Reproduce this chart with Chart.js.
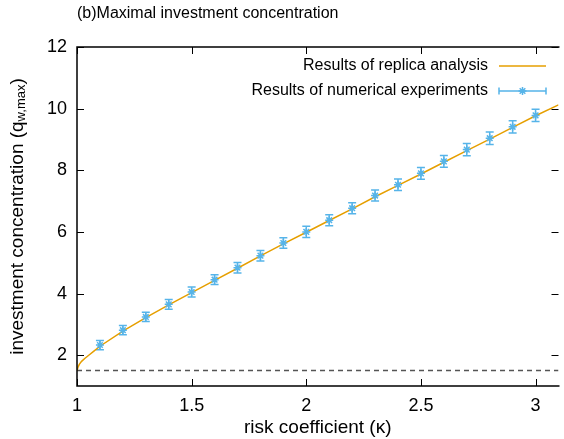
<!DOCTYPE html>
<html>
<head>
<meta charset="utf-8">
<script src="https://cdn.jsdelivr.net/npm/chart.js@4"></script>
<style>
html,body{margin:0;padding:0;background:#fff;}
#wrap{width:564px;height:439px;}
</style>
</head>
<body>
<div id="wrap"><canvas id="c" width="564" height="439"></canvas></div>
<script>
// ---- data ----
const kappaNumerical = [1.1,1.2,1.3,1.4,1.5,1.6,1.7,1.8,1.9,2.0,2.1,2.2,2.3,2.4,2.5,2.6,2.7,2.8,2.9,3.0];
const qNumerical     = [2.33,2.81,3.24,3.65,4.05,4.45,4.84,5.23,5.64,6.00,6.38,6.77,7.18,7.53,7.90,8.29,8.67,9.04,9.41,9.78];
const qError         = [0.15,0.15,0.15,0.16,0.16,0.16,0.17,0.17,0.17,0.18,0.18,0.18,0.18,0.19,0.19,0.19,0.20,0.20,0.20,0.20];

const kappaReplica = [1.0,1.005,1.01,1.02,1.035,1.05,1.075,1.1,1.2,1.3,1.4,1.5,1.6,1.7,1.8,1.9,2.0,2.1,2.2,2.3,2.4,2.5,2.6,2.7,2.8,2.9,3.0,3.1];
const qReplica     = [1.50,1.62,1.70,1.80,1.90,1.99,2.14,2.29,2.78,3.22,3.63,4.03,4.43,4.82,5.22,5.61,5.99,6.37,6.75,7.14,7.51,7.88,8.26,8.64,9.01,9.39,9.77,10.12];

const kappaDashed = [1.0, 3.1];
const qDashed     = [1.5, 1.5];

const xTicks = [1, 1.5, 2, 2.5, 3];
const yTicks = [2, 4, 6, 8, 10, 12];

const chartTitle = '(b)Maximal investment concentration';
const xTitle = 'risk coefficient (\u03BA)';
const yTitleMain = 'investment concentration (q';
const yTitleSub = 'w,max';
const yTitleEnd = ')';
const legendLabels = ['Results of replica analysis', 'Results of numerical experiments'];

const FONT = "'Liberation Sans', Arial, Helvetica, sans-serif";
const ORANGE = '#E69F00';
const BLUE = '#56B4E9';

const gnuplotPlugin = {
  id: 'gnuplotStyle',
  beforeDatasetsDraw(chart) {
    const {ctx, scales: {x, y}} = chart;
    ctx.save();
    ctx.strokeStyle = BLUE;
    ctx.lineWidth = 1.5;
    kappaNumerical.forEach((k, i) => {
      const px = x.getPixelForValue(k);
      const yt = y.getPixelForValue(qNumerical[i] + qError[i]);
      const yb = y.getPixelForValue(qNumerical[i] - qError[i]);
      ctx.beginPath();
      ctx.moveTo(px, yt); ctx.lineTo(px, yb);
      ctx.moveTo(px - 4, yt); ctx.lineTo(px + 4, yt);
      ctx.moveTo(px - 4, yb); ctx.lineTo(px + 4, yb);
      ctx.stroke();
    });
    ctx.restore();
  },
  afterDraw(chart) {
    const {ctx, chartArea: a, scales: {x, y}} = chart;
    ctx.save();
    // border
    ctx.strokeStyle = '#000';
    ctx.lineWidth = 1.5;
    ctx.beginPath();
    ctx.moveTo(a.right + 1, a.top);
    ctx.lineTo(a.left, a.top);
    ctx.lineTo(a.left, a.bottom);
    ctx.lineTo(a.right + 1, a.bottom);
    ctx.stroke();
    // inward ticks
    ctx.lineWidth = 1;
    const TL = 7;
    ctx.beginPath();
    xTicks.forEach(v => {
      const px = Math.round(x.getPixelForValue(v)) + 0.5;
      ctx.moveTo(px, a.bottom); ctx.lineTo(px, a.bottom - TL);
      ctx.moveTo(px, a.top); ctx.lineTo(px, a.top + TL);
    });
    yTicks.forEach(v => {
      const py = Math.round(y.getPixelForValue(v)) + 0.5;
      ctx.moveTo(a.left, py); ctx.lineTo(a.left + TL, py);
      ctx.moveTo(a.right, py); ctx.lineTo(a.right - TL, py);
    });
    ctx.stroke();

    // title
    ctx.fillStyle = '#000';
    ctx.font = '16px ' + FONT;
    ctx.textAlign = 'left';
    ctx.textBaseline = 'middle';
    ctx.fillText(chartTitle, 77, 14);

    // x title
    ctx.font = '19px ' + FONT;
    ctx.textAlign = 'center';
    ctx.fillText(xTitle, (a.left + a.right) / 2, 428);

    // y title with subscript
    ctx.save();
    ctx.translate(17.5, 216.5);
    ctx.rotate(-Math.PI / 2);
    ctx.textAlign = 'left';
    ctx.textBaseline = 'middle';
    const fMain = '19px ' + FONT, fSub = '13px ' + FONT;
    ctx.font = fMain; const w1 = ctx.measureText(yTitleMain).width; const w3 = ctx.measureText(yTitleEnd).width;
    ctx.font = fSub; const w2 = ctx.measureText(yTitleSub).width;
    let sx = -(w1 + w2 + w3) / 2;
    ctx.font = fMain; ctx.fillText(yTitleMain, sx, 0); sx += w1;
    ctx.font = fSub; ctx.fillText(yTitleSub, sx, 4); sx += w2;
    ctx.font = fMain; ctx.fillText(yTitleEnd, sx, 0);
    ctx.restore();

    // legend
    ctx.font = '16px ' + FONT;
    ctx.textAlign = 'right';
    ctx.textBaseline = 'middle';
    const lx0 = 499, lx1 = 546, ly0 = 66, ly1 = 91;
    ctx.fillText(legendLabels[0], 488, ly0);
    ctx.fillText(legendLabels[1], 488, ly1);
    ctx.strokeStyle = ORANGE; ctx.lineWidth = 1.5;
    ctx.beginPath(); ctx.moveTo(lx0, ly0); ctx.lineTo(lx1, ly0); ctx.stroke();
    ctx.strokeStyle = BLUE; ctx.lineWidth = 1.5;
    ctx.beginPath();
    ctx.moveTo(lx0, ly1); ctx.lineTo(lx1, ly1);
    ctx.moveTo(lx0, ly1 - 3.5); ctx.lineTo(lx0, ly1 + 3.5);
    ctx.moveTo(lx1, ly1 - 3.5); ctx.lineTo(lx1, ly1 + 3.5);
    ctx.stroke();
    const cx = (lx0 + lx1) / 2, cy = ly1, r = 4;
    ctx.beginPath();
    ctx.moveTo(cx - r, cy); ctx.lineTo(cx + r, cy);
    ctx.moveTo(cx, cy - r); ctx.lineTo(cx, cy + r);
    const d = r * Math.SQRT1_2;
    ctx.moveTo(cx - d, cy - d); ctx.lineTo(cx + d, cy + d);
    ctx.moveTo(cx - d, cy + d); ctx.lineTo(cx + d, cy - d);
    ctx.stroke();
    ctx.restore();
  }
};

new Chart(document.getElementById('c'), {
  type: 'scatter',
  data: {
    datasets: [
      {
        label: legendLabels[1],
        data: kappaNumerical.map((k, i) => ({x: k, y: qNumerical[i]})),
        showLine: false,
        pointStyle: 'star',
        pointRadius: 4,
        pointBorderWidth: 1.5,
        borderColor: BLUE,
        backgroundColor: BLUE,
        order: 0
      },
      {
        label: legendLabels[0],
        data: kappaReplica.map((k, i) => ({x: k, y: qReplica[i]})),
        showLine: true,
        borderColor: ORANGE,
        borderWidth: 1.5,
        pointRadius: 0,
        tension: 0,
        order: 1
      },
      {
        label: 'threshold',
        data: kappaDashed.map((k, i) => ({x: k, y: qDashed[i]})),
        showLine: true,
        borderColor: '#555555',
        borderWidth: 1.5,
        borderDash: [5, 4],
        pointRadius: 0,
        order: 2
      }
    ]
  },
  options: {
    responsive: false,
    animation: false,
    layout: {padding: {top: 47, right: 0, bottom: 0, left: 0}},
    plugins: {legend: {display: false}, title: {display: false}, tooltip: {enabled: false}},
    scales: {
      x: {
        type: 'linear', min: 1, max: 3.1,
        afterBuildTicks: s => { s.ticks = xTicks.map(v => ({value: v})); },
        afterFit: s => { s.height = 53; },
        grid: {display: false, drawTicks: false},
        border: {display: false},
        ticks: {font: {family: FONT, size: 18}, color: '#000', padding: 9, maxRotation: 0, autoSkip: false,
                callback: v => String(v)}
      },
      y: {
        type: 'linear', min: 1, max: 12,
        afterBuildTicks: s => { s.ticks = yTicks.map(v => ({value: v})); },
        afterFit: s => { s.width = 77; },
        grid: {display: false, drawTicks: false},
        border: {display: false},
        ticks: {font: {family: FONT, size: 18}, color: '#000', padding: 10, autoSkip: false,
                callback: v => String(v)}
      }
    }
  },
  plugins: [gnuplotPlugin]
});
</script>
</body>
</html>
